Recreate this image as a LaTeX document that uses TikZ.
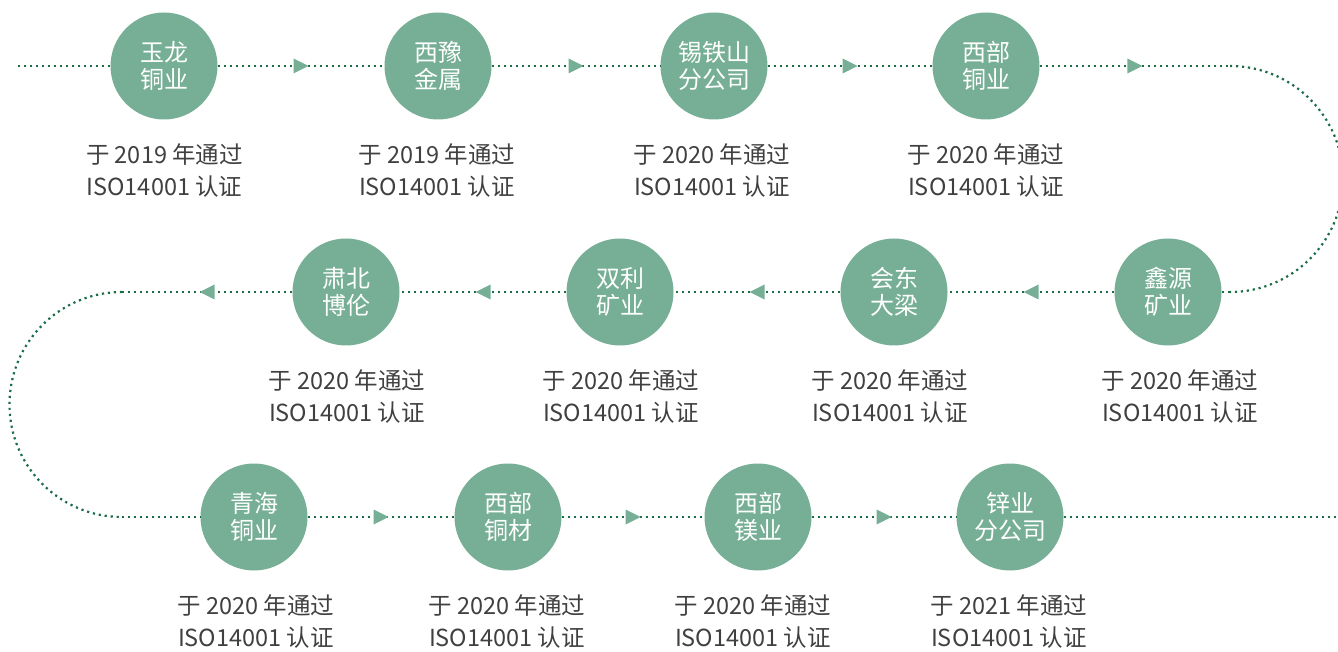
\documentclass[tikz,border=0pt]{standalone}
\usepackage{fontspec}
\setmainfont{Noto Sans CJK SC}
\usetikzlibrary{decorations.markings}
\definecolor{circ}{RGB}{118,175,150}
\definecolor{dotc}{RGB}{28,108,72}
\definecolor{txt}{RGB}{64,64,64}
\tikzset{
 firm/.style={circle, fill=circ, minimum size=107pt, inner sep=0pt, text=white, font=\fontsize{24}{27}\selectfont, align=center},
 cert/.style={text=txt, font=\fontsize{23.5}{32}\selectfont, align=center, inner sep=0pt},
 dotline/.style={draw=dotc, line width=2.2pt, line cap=butt, dash pattern=on 2.2pt off 3.8pt},
 flow/.style={postaction={decorate}, decoration={markings, mark=at position 0.5 with {\fill[circ, solid] (-7.5pt,-7.5pt) -- (7.5pt,0pt) -- (-7.5pt,7.5pt) -- cycle;}}},
}
\begin{document}
\begin{tikzpicture}[x=1pt,y=1pt]
\useasboundingbox (0,0) rectangle (1338,651);
\clip (0,0) rectangle (1338,651);
% row 1
\node[firm] (n1) at (164,585) {玉龙\\铜业};
\node[firm] (n2) at (438,585) {西豫\\金属};
\node[firm] (n3) at (714,585) {锡铁山\\分公司};
\node[firm] (n4) at (986,585) {西部\\铜业};
% row 2
\node[firm] (n5) at (1168,359) {鑫源\\矿业};
\node[firm] (n6) at (894,359) {会东\\大梁};
\node[firm] (n7) at (620,359) {双利\\矿业};
\node[firm] (n8) at (346,359) {肃北\\博伦};
% row 3
\node[firm] (n9) at (254,134) {青海\\铜业};
\node[firm] (n10) at (508,134) {西部\\铜材};
\node[firm] (n11) at (758,134) {西部\\镁业};
\node[firm] (n12) at (1010,134) {锌业\\分公司};
% labels
\node[cert] (t1) at (164.5,480) {于 2019 年通过\\ISO14001 认证};
\node[cert] (t2) at (437,480) {于 2019 年通过\\ISO14001 认证};
\node[cert] (t3) at (712,480) {于 2020 年通过\\ISO14001 认证};
\node[cert] (t4) at (986,480) {于 2020 年通过\\ISO14001 认证};
\node[cert] (t5) at (1180,254) {于 2020 年通过\\ISO14001 认证};
\node[cert] (t6) at (890,254) {于 2020 年通过\\ISO14001 认证};
\node[cert] (t7) at (621,254) {于 2020 年通过\\ISO14001 认证};
\node[cert] (t8) at (347,254) {于 2020 年通过\\ISO14001 认证};
\node[cert] (t9) at (256,29) {于 2020 年通过\\ISO14001 认证};
\node[cert] (t10) at (507,29) {于 2020 年通过\\ISO14001 认证};
\node[cert] (t11) at (753,29) {于 2020 年通过\\ISO14001 认证};
\node[cert] (t12) at (1009,29) {于 2021 年通过\\ISO14001 认证};
% path coordinates
\coordinate (s) at (18,585);
\coordinate (r1) at (1230,585);
\coordinate (r2) at (1230,359);
\coordinate (l1) at (122,359);
\coordinate (l2) at (122,134);
\coordinate (e) at (1345,134);
% connectors
\draw[dotline] (s) -- (n1);
\draw[dotline, flow] (n1) -- (n2);
\draw[dotline, flow] (n2) -- (n3);
\draw[dotline, flow] (n3) -- (n4);
\draw[dotline, flow] (n4) -- (r1);
\draw[dotline] (r1) arc[start angle=90, end angle=-90, radius=113pt];
\draw[dotline] (r2) -- (n5);
\draw[dotline, flow] (n5) -- (n6);
\draw[dotline, flow] (n6) -- (n7);
\draw[dotline, flow] (n7) -- (n8);
\draw[dotline, flow] (n8) -- (l1);
\draw[dotline] (l1) arc[start angle=90, end angle=270, radius=112.5pt];
\draw[dotline] (l2) -- (n9);
\draw[dotline, flow] (n9) -- (n10);
\draw[dotline, flow] (n10) -- (n11);
\draw[dotline, flow] (n11) -- (n12);
\draw[dotline] (n12) -- (e);
\end{tikzpicture}
\end{document}
